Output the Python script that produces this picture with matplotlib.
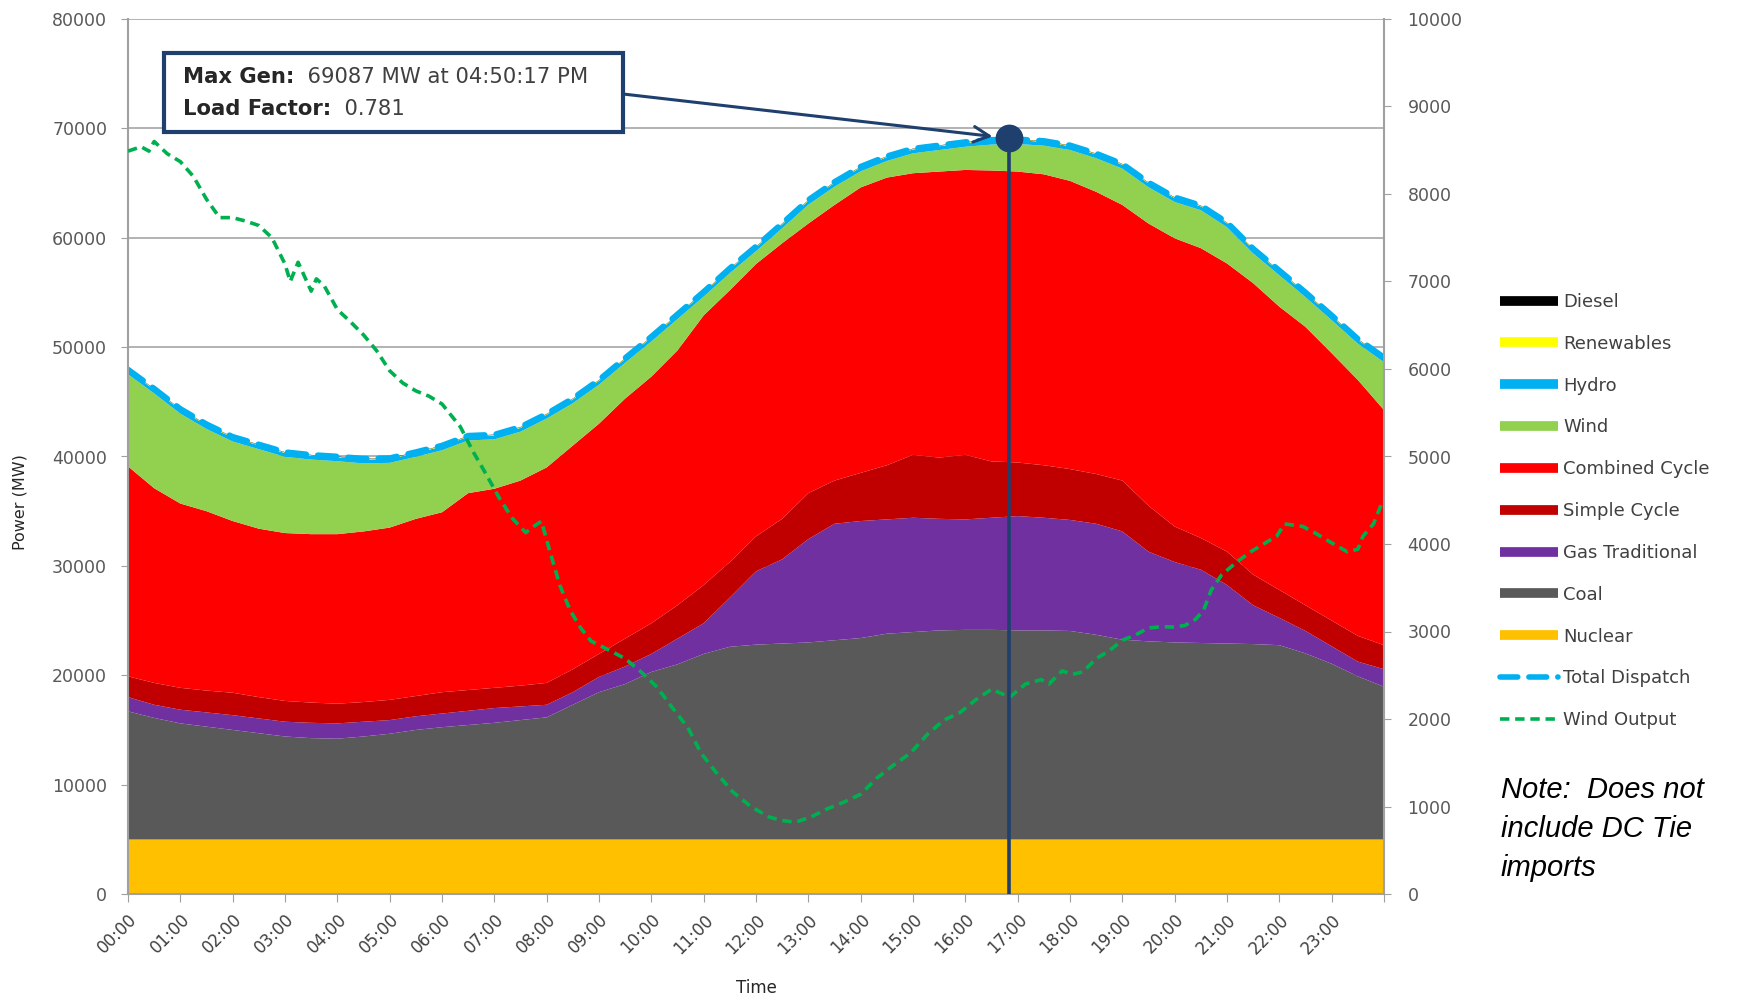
import matplotlib
matplotlib.use('Agg')
import matplotlib.pyplot as plt
from matplotlib.lines import Line2D
from matplotlib.patches import Rectangle
from matplotlib.text import Annotation
import numpy as np

# ---------------- data (MW) ----------------
hours = [0.0, 0.5, 1.0, 1.5, 2.0, 2.5, 3.0, 3.5, 4.0, 4.5, 5.0, 5.5, 6.0, 6.5,
         7.0, 7.5, 8.0, 8.5, 9.0, 9.5, 10.0, 10.5, 11.0, 11.5, 12.0, 12.5,
         13.0, 13.5, 14.0, 14.5, 15.0, 15.5, 16.0, 16.5, 17.0, 17.5, 18.0,
         18.5, 19.0, 19.5, 20.0, 20.5, 21.0, 21.5, 22.0, 22.5, 23.0, 23.5, 24.0]

nuclear = [5000, 5000, 5000, 5000, 5000, 5000, 5000, 5000, 5000, 5000, 5000, 5000,
           5000, 5000, 5000, 5000, 5000, 5000, 5000, 5000, 5000, 5000, 5000, 5000,
           5000, 5000, 5000, 5000, 5000, 5000, 5000, 5000, 5000, 5000, 5000, 5000,
           5000, 5000, 5000, 5000, 5000, 5000, 5000, 5000, 5000, 5000, 5000, 5000, 5000]
coal = [11700, 11100, 10600, 10300, 10000, 9700, 9400, 9250, 9200, 9400, 9650, 10000,
        10250, 10450, 10650, 10900, 11150, 12300, 13450, 14200, 15300, 16000, 16950, 17600,
        17800, 17900, 18000, 18200, 18400, 18800, 18950, 19100, 19150, 19150, 19100, 19100,
        19050, 18700, 18250, 18100, 18000, 17950, 17900, 17850, 17750, 17000, 16050, 14900, 13950]
gas_traditional = [1300, 1200, 1250, 1300, 1350, 1350, 1350, 1400, 1400, 1350, 1250, 1250,
                   1250, 1300, 1350, 1250, 1150, 1150, 1400, 1600, 1650, 2350, 2800, 4500,
                   6700, 7700, 9450, 10650, 10700, 10450, 10450, 10200, 10100, 10250, 10450, 10300,
                   10150, 10150, 9900, 8200, 7350, 6700, 5350, 3550, 2500, 2050, 1600, 1350, 1600]
simple_cycle = [1900, 2000, 2000, 2000, 2050, 1950, 1900, 1850, 1800, 1800, 1850, 1850,
                1950, 1900, 1850, 1900, 2000, 2100, 2100, 2550, 2800, 3050, 3500, 3250,
                3200, 3700, 4200, 3950, 4400, 4950, 5750, 5600, 5900, 5150, 4900, 4800,
                4650, 4550, 4650, 4200, 3250, 2900, 3050, 2800, 2550, 2350, 2350, 2350, 2200]
combined_cycle = [19200, 17800, 16850, 16400, 15700, 15400, 15350, 15400, 15500, 15600, 15750, 16200,
                  16450, 18000, 18200, 18750, 19700, 20450, 21050, 21950, 22550, 23300, 24650, 24850,
                  24900, 25200, 24650, 25200, 26100, 26300, 25750, 26150, 26050, 26600, 26600, 26600,
                  26350, 25800, 25200, 25800, 26350, 26500, 26350, 26650, 25900, 25450, 24450, 23400, 21500]
wind = [8420, 8670, 8220, 7520, 7270, 7270, 6970, 6820, 6670, 6220, 5920, 5670,
        5670, 4820, 4520, 4470, 4470, 3870, 3570, 3270, 3220, 2870, 1720, 1570,
        1170, 1370, 1720, 1670, 1470, 1520, 1820, 1970, 2120, 2370, 2520, 2620,
        2820, 3070, 3320, 3320, 3320, 3470, 3320, 2720, 2870, 2720, 3020, 3320, 4370]
hydro = [350, 350, 350, 350, 350, 350, 350, 350, 350, 350, 350, 350,
         350, 350, 350, 350, 350, 350, 350, 350, 350, 350, 350, 350,
         350, 350, 350, 350, 350, 350, 350, 350, 350, 350, 350, 350,
         350, 350, 350, 350, 350, 350, 350, 350, 350, 350, 350, 350, 350]
renewables = [50, 50, 50, 50, 50, 50, 50, 50, 50, 50, 50, 50,
              50, 50, 50, 50, 50, 50, 50, 50, 50, 50, 50, 50,
              50, 50, 50, 50, 50, 50, 50, 50, 50, 50, 50, 50,
              50, 50, 50, 50, 50, 50, 50, 50, 50, 50, 50, 50, 50]
diesel = [30, 30, 30, 30, 30, 30, 30, 30, 30, 30, 30, 30,
          30, 30, 30, 30, 30, 30, 30, 30, 30, 30, 30, 30,
          30, 30, 30, 30, 30, 30, 30, 30, 30, 30, 30, 30,
          30, 30, 30, 30, 30, 30, 30, 30, 30, 30, 30, 30, 30]

# wind output (right axis, MW)
wind_hours = [0.0, 0.25, 0.4, 0.5, 0.75, 1.0, 1.25, 1.5, 1.75, 2.0, 2.25, 2.5, 2.75, 3.0,
              3.1, 3.25, 3.5, 3.6, 3.75, 4.0, 4.25, 4.5, 4.75, 5.0, 5.25, 5.5, 5.75, 6.0,
              6.35, 6.6, 6.85, 7.1, 7.35, 7.6, 7.75, 7.9, 8.05, 8.25, 8.45, 8.65, 8.85,
              9.15, 9.5, 9.8, 10.1, 10.4, 10.7, 10.95, 11.25, 11.55, 11.9, 12.25, 12.5,
              12.75, 13.05, 13.35, 13.7, 14.0, 14.3, 14.6, 14.95, 15.3, 15.6, 15.9, 16.2,
              16.5, 16.85, 17.15, 17.45, 17.6, 17.85, 18.05, 18.25, 18.5, 18.75, 19.0,
              19.25, 19.5, 19.75, 20.0, 20.2, 20.4, 20.55, 20.7, 20.9, 21.2, 21.45, 21.7,
              21.95, 22.1, 22.45, 22.7, 22.95, 23.3, 23.5, 23.6, 23.8, 23.96]
wind_output = [8490, 8540, 8490, 8600, 8460, 8370, 8200, 7940, 7730, 7730, 7690, 7640, 7500, 7200,
               7000, 7220, 6890, 7030, 6950, 6680, 6540, 6390, 6210, 5980, 5840, 5750, 5690, 5600,
               5340, 5050, 4790, 4520, 4290, 4130, 4200, 4260, 3940, 3530, 3240, 3040, 2890,
               2800, 2690, 2540, 2370, 2130, 1900, 1610, 1380, 1170, 1000, 880, 840,
               820, 880, 970, 1055, 1140, 1320, 1460, 1610, 1840, 1990, 2075, 2220,
               2340, 2250, 2400, 2450, 2400, 2550, 2510, 2540, 2690, 2780, 2900,
               2960, 3040, 3055, 3050, 3070, 3140, 3240, 3475, 3650, 3800, 3910, 4000,
               4090, 4230, 4200, 4120, 4030, 3910, 3940, 4090, 4230, 4470]

hour_labels = ['00:00', '01:00', '02:00', '03:00', '04:00', '05:00', '06:00', '07:00',
               '08:00', '09:00', '10:00', '11:00', '12:00', '13:00', '14:00', '15:00',
               '16:00', '17:00', '18:00', '19:00', '20:00', '21:00', '22:00', '23:00']

series_names = ['Nuclear', 'Coal', 'Gas Traditional', 'Simple Cycle', 'Combined Cycle',
                'Wind', 'Hydro', 'Renewables', 'Diesel']
series_colors = ['#FFC000', '#595959', '#7030A0', '#C00000', '#FF0000',
                 '#92D050', '#00B0F0', '#FFFF00', '#000000']

peak_hour = 16 + 50 / 60 + 17 / 3600
peak_mw = 69087
load_factor = 0.781

# ---------------- figure ----------------
plt.rcParams['font.family'] = ['DejaVu Sans']
fig = plt.figure(figsize=(17.5, 10), dpi=100)
ax = fig.add_axes([128 / 1750, 1 - 894 / 1000, (1384 - 128) / 1750, (894 - 19) / 1000])

stack = [nuclear, coal, gas_traditional, simple_cycle, combined_cycle,
         wind, hydro, renewables, diesel]
ax.stackplot(hours, *stack, colors=series_colors, linewidth=0)
total_dispatch = np.sum(np.array(stack), axis=0)
ax.plot(hours, total_dispatch, color='#00B0F0', lw=4.2,
        linestyle=(0, (3.2, 2.0)), dash_capstyle='round')

ax.set_xlim(0, 24)
ax.set_ylim(0, 80000)
ax.set_yticks(range(0, 80001, 10000))
ax.set_xticks(list(range(0, 25)))
ax.set_xticklabels(hour_labels + [''], rotation=45, ha='right', va='top',
                   rotation_mode='anchor', fontsize=12, color='#404040')
ax.yaxis.grid(True, color='#A6A6A6', lw=1.2)
ax.set_axisbelow(True)
ax.tick_params(axis='y', labelsize=12.5, labelcolor='#595959', color='#A0A0A0',
               length=5, pad=10)
ax.tick_params(axis='x', color='#A0A0A0', length=6, pad=6)
for s in ['left', 'bottom']:
    ax.spines[s].set_color('#A0A0A0')
    ax.spines[s].set_linewidth(1.5)
ax.spines['top'].set_visible(False)
ax.spines['right'].set_visible(False)

ax2 = ax.twinx()
ax2.plot(wind_hours, wind_output, color='#00B050', lw=2.6, linestyle=(0, (2.6, 1.6)))
ax2.set_ylim(0, 10000)
ax2.set_yticks(range(0, 10001, 1000))
ax2.tick_params(axis='y', labelsize=12.5, labelcolor='#595959', color='#A0A0A0',
                length=5, pad=12)
ax2.spines['right'].set_color('#A0A0A0')
ax2.spines['right'].set_linewidth(1.5)
for s in ['left', 'top', 'bottom']:
    ax2.spines[s].set_visible(False)

# peak marker, vertical line, arrow
navy = '#1F3F6E'
ax2.plot([peak_hour, peak_hour], [0, peak_mw], color=navy, lw=2.6,
         transform=ax.transData)
ax2.plot([peak_hour], [peak_mw], 'o', color=navy, ms=19, transform=ax.transData)
ax2.annotate('', xy=(peak_hour, peak_mw), xycoords=ax.transData,
             xytext=(623 / 1750, 1 - 94 / 1000), textcoords='figure fraction',
             arrowprops=dict(arrowstyle='->', color=navy, lw=2.2,
                             mutation_scale=28, shrinkA=0, shrinkB=12))

box = Rectangle((164 / 1750, 1 - 132 / 1000), (623 - 164) / 1750, (132 - 53) / 1000,
                transform=fig.transFigure, facecolor='white', edgecolor=navy,
                lw=3, zorder=10)
fig.patches.append(box)
t1 = fig.text(183 / 1750, 1 - 77 / 1000, 'Max Gen:', fontsize=15.2, fontweight='bold',
              color='#262626', va='center', ha='left', zorder=11)
t2 = fig.text(183 / 1750, 1 - 109 / 1000, 'Load Factor:', fontsize=15.2, fontweight='bold',
              color='#262626', va='center', ha='left', zorder=11)
a1 = Annotation('  %d MW at 04:50:17 PM' % peak_mw, xy=(1, 0.5), xycoords=t1,
                va='center', ha='left', fontsize=15.2, color='#404040')
a1.set_zorder(11)
fig.add_artist(a1)
a2 = Annotation('  %.3f' % load_factor, xy=(1, 0.5), xycoords=t2,
                va='center', ha='left', fontsize=15.2, color='#404040')
a2.set_zorder(11)
fig.add_artist(a2)

# axis titles
fig.text(756 / 1750, 1 - 988 / 1000, 'Time', ha='center', va='center',
         fontsize=12, color='#262626')
fig.text(20 / 1750, 1 - 502 / 1000, 'Power (MW)', ha='center', va='center',
         rotation=90, fontsize=11.5, color='#262626')

# legend
legend_order = ['Diesel', 'Renewables', 'Hydro', 'Wind', 'Combined Cycle',
                'Simple Cycle', 'Gas Traditional', 'Coal', 'Nuclear']
cmap = dict(zip(series_names, series_colors))
handles = [Line2D([], [], color=cmap[n], lw=7, solid_capstyle='butt') for n in legend_order]
handles.append(Line2D([], [], color='#00B0F0', lw=4, linestyle=(0, (3.2, 2.0)),
                      dash_capstyle='round'))
handles.append(Line2D([], [], color='#00B050', lw=2.6, linestyle=(0, (2.6, 1.6))))
labels = legend_order + ['Total Dispatch', 'Wind Output']
fig.legend(handles, labels, loc='center left', bbox_to_anchor=(1500 / 1750, 1 - 511 / 1000),
           frameon=False, fontsize=13, labelcolor='#404040', handlelength=3.2,
           handletextpad=0.3, labelspacing=1.32, borderpad=0, borderaxespad=0)

fig.text(1501 / 1750, 1 - 776 / 1000, 'Note:  Does not\ninclude DC Tie\nimports',
         ha='left', va='top', fontsize=21, style='italic', family='Liberation Sans',
         linespacing=1.5, color='black')

fig.savefig('out.png', dpi=100)
